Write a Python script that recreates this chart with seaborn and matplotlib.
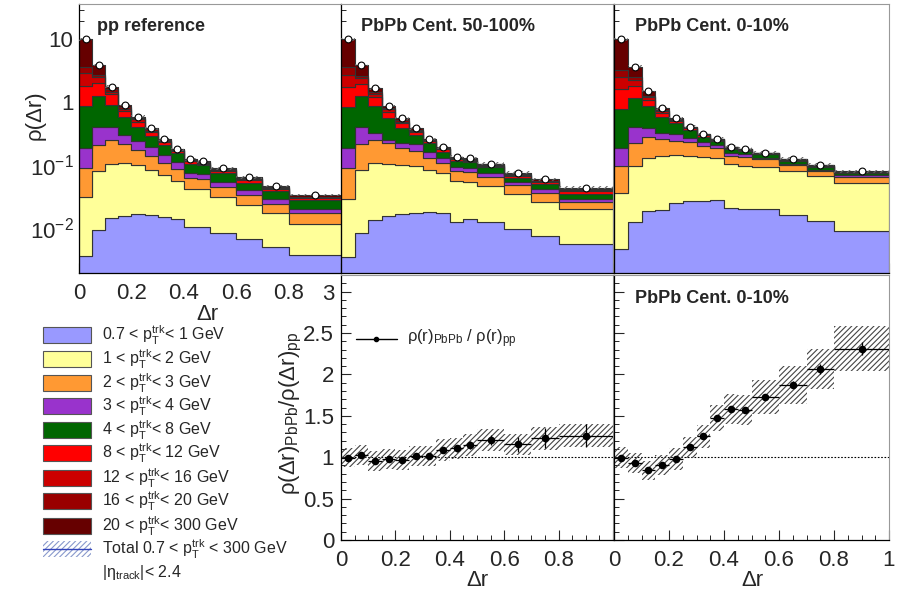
import numpy as np
import pandas as pd
import matplotlib
matplotlib.use("Agg")
import matplotlib.pyplot as plt
import seaborn as sns
from matplotlib.patches import Rectangle
from matplotlib.ticker import FixedLocator, FixedFormatter, LogLocator, MultipleLocator, NullFormatter

# ---------------- data ----------------
bin_edges = [0, 0.05, 0.1, 0.15, 0.2, 0.25, 0.3, 0.35, 0.4, 0.45, 0.5, 0.6, 0.7, 0.8, 1.0]

layer_labels = ["0.7 < p$_\\mathrm{T}^\\mathrm{trk}$< 1 GeV",
                "1 < p$_\\mathrm{T}^\\mathrm{trk}$< 2 GeV",
                "2 < p$_\\mathrm{T}^\\mathrm{trk}$< 3 GeV",
                "3 < p$_\\mathrm{T}^\\mathrm{trk}$< 4 GeV",
                "4 < p$_\\mathrm{T}^\\mathrm{trk}$< 8 GeV",
                "8 < p$_\\mathrm{T}^\\mathrm{trk}$< 12 GeV",
                "12 < p$_\\mathrm{T}^\\mathrm{trk}$< 16 GeV",
                "16 < p$_\\mathrm{T}^\\mathrm{trk}$< 20 GeV",
                "20 < p$_\\mathrm{T}^\\mathrm{trk}$< 300 GeV"]
layer_colors = ["#9999FF", "#FFFF99", "#FF9933", "#9933CC", "#006600",
                "#FF0000", "#CC0000", "#990000", "#660000"]

# cumulative (stacked) tops of each pT layer, pp reference
pp_c1 = [.0036, .0093, .0142, .0155, .0166, .0160, .0147, .0137, .0105, .0105, .0084, .0066, .0050, .0037]
pp_c2 = [.031, .0815, .106, .109, .100, .0834, .0695, .0565, .0411, .0411, .0314, .0231, .0171, .0115]
pp_c3 = [.091, .209, .251, .217, .174, .139, .109, .0855, .0615, .0600, .0453, .0330, .0240, .0171]
pp_c4 = [.189, .399, .399, .305, .242, .197, .145, .112, .0757, .0721, .0544, .0401, .0288, .0200]
pp_c5 = [.875, 1.28, .908, .577, .409, .291, .209, .154, .104, .099, .0738, .0525, .0392, .0278]
pp_c6 = [1.82, 2.00, 1.34, .728, .492, .337, .233, .168, .115, .106, .0805, .0578, .0416, .0295]
pp_c7 = [2.89, 2.50, 1.48, .783, .536, .353, .242, .172, .117, .109, .0834, .0600, .0431, .0306]
pp_c8 = [3.69, 2.72, 1.61, .832, .556, .371, .248, .176, .120, .112, .0855, .0615, .0442, .0314]
pp_c9 = [10.1, 3.93, 1.78, .908, .591, .385, .257, .178, .123, .115, .0887, .0638, .0465, .0334]

# PbPb 50-100%
per_c1 = [.0034, .0082, .0134, .0156, .0166, .0175, .0179, .0171, .0126, .0140, .0126, .0098, .0075, .0055]
per_c2 = [.0288, .0834, .109, .106, .100, .0967, .0834, .0738, .0558, .0532, .0471, .0342, .0255, .0198]
per_c3 = [.091, .217, .251, .222, .185, .170, .131, .109, .0815, .0786, .0654, .0482, .0364, .0255]
per_c4 = [.185, .399, .321, .251, .222, .214, .164, .131, .0944, .091, .0738, .0532, .0421, .0288]
per_c5 = [.852, 1.28, .875, .556, .385, .302, .228, .164, .116, .111, .0921, .0631, .0500, .0351]
per_c6 = [1.78, 1.93, 1.23, .709, .463, .341, .239, .178, .1236, .117, .098, .0679, .0538, .0387]
per_c7 = [2.72, 2.41, 1.34, .773, .492, .353, .245, .183, .127, .1205, .100, .0695, .0551, .0401]
per_c8 = [3.69, 2.62, 1.44, .821, .523, .366, .251, .187, .130, .1236, .1028, .0713, .0565, .0411]
per_c9 = [10.1, 3.93, 1.67, .875, .556, .385, .257, .192, .136, .130, .106, .0757, .0593, .0437]

# PbPb 0-10%
cen_c1 = [.0047, .0126, .0188, .0193, .0246, .0268, .0271, .0278, .0205, .0198, .0200, .0160, .0129, .0089]
cen_c2 = [.0364, .098, .131, .139, .145, .141, .133, .128, .104, .098, .0921, .0805, .0679, .0525]
cen_c3 = [.0967, .228, .284, .257, .245, .236, .201, .185, .141, .136, .1236, .100, .0805, .0654]
cen_c4 = [.185, .409, .385, .328, .309, .273, .236, .209, .158, .150, .131, .106, .0846, .0704]
cen_c5 = [.775, 1.185, .875, .591, .463, .362, .284, .245, .183, .170, .148, .117, .0944, .0738]
cen_c6 = [1.61, 1.82, 1.088, .668, .504, .385, .302, .254, .190, .176, .152, .1205, .0967, .0757]
cen_c7 = [2.50, 2.26, 1.20, .718, .523, .394, .305, .257, .192, .178, .154, .122, .098, .0767]
cen_c8 = [3.27, 2.56, 1.26, .754, .536, .399, .309, .260, .194, .180, .156, .1236, .099, .0776]
cen_c9 = [10.1, 3.69, 1.51, .801, .556, .409, .313, .264, .197, .183, .158, .127, .102, .0796]

# ratios PbPb / pp
ratio_per = [0.996, 1.025, 0.955, 0.975, 0.963, 1.012, 1.012, 1.086, 1.107, 1.148, 1.21, 1.156, 1.23, 1.259]
ratio_per_stat = [0.02, 0.02, 0.02, 0.02, 0.02, 0.02, 0.02, 0.03, 0.04, 0.05, 0.06, 0.09, 0.12, 0.14]
ratio_per_sys = [0.12, 0.12, 0.12, 0.12, 0.12, 0.12, 0.12, 0.13, 0.13, 0.13, 0.13, 0.13, 0.14, 0.14]
ratio_cen = [0.996, 0.930, 0.840, 0.901, 0.975, 1.119, 1.251, 1.473, 1.580, 1.572, 1.728, 1.877, 2.062, 2.309]
ratio_cen_stat = [0.02, 0.02, 0.02, 0.02, 0.02, 0.02, 0.02, 0.03, 0.03, 0.03, 0.03, 0.04, 0.06, 0.08]
ratio_cen_sys = [0.13, 0.12, 0.12, 0.12, 0.13, 0.13, 0.14, 0.16, 0.18, 0.18, 0.21, 0.23, 0.24, 0.27]

panel_titles = ["pp reference", "PbPb Cent. 50-100%", "PbPb Cent. 0-10%"]

# ---------------- style ----------------
sns.set_theme(style="ticks")
plt.rcParams["font.family"] = ["Liberation Sans", "DejaVu Sans"]
plt.rcParams["mathtext.fontset"] = "custom"
plt.rcParams["mathtext.rm"] = "Liberation Sans"
plt.rcParams["mathtext.it"] = "Liberation Sans:italic"
plt.rcParams["mathtext.bf"] = "Liberation Sans:bold"
plt.rcParams["hatch.linewidth"] = 0.8

W, H = 898, 590
fig = plt.figure(figsize=(W / 100, H / 100), dpi=100)


def add_ax(x0, y0, x1, y1):
    return fig.add_axes([x0 / W, 1 - y1 / H, (x1 - x0) / W, (y1 - y0) / H])


edges = np.array(bin_edges)
centers = 0.5 * (edges[1:] + edges[:-1])
widths = np.diff(edges)
palette = dict(zip(layer_labels, layer_colors))

cum_sets = [
    [pp_c1, pp_c2, pp_c3, pp_c4, pp_c5, pp_c6, pp_c7, pp_c8, pp_c9],
    [per_c1, per_c2, per_c3, per_c4, per_c5, per_c6, per_c7, per_c8, per_c9],
    [cen_c1, cen_c2, cen_c3, cen_c4, cen_c5, cen_c6, cen_c7, cen_c8, cen_c9],
]

top_boxes = [(79, 4, 341, 273), (341, 4, 613, 273), (614, 4, 889, 273)]
bot_boxes = [(341, 275, 613, 540), (614, 275, 889, 540)]

TICK = 16


def style_spines(ax):
    for s in ["left", "bottom"]:
        ax.spines[s].set_color("black")
        ax.spines[s].set_linewidth(0.9)
    for s in ["top", "right"]:
        ax.spines[s].set_color("#999999")
        ax.spines[s].set_linewidth(0.8)


for i, (box, cums) in enumerate(zip(top_boxes, cum_sets)):
    ax = add_ax(*box)
    cum = np.array(cums)
    contrib = np.diff(np.vstack([np.zeros(len(centers)), cum]), axis=0)
    rows = []
    for li, lab in enumerate(layer_labels):
        for c, w in zip(centers, contrib[li]):
            rows.append({"x": c, "w": w, "layer": lab})
    df = pd.DataFrame(rows)
    sns.histplot(data=df, x="x", weights="w", hue="layer",
                 hue_order=layer_labels[::-1], palette=palette,
                 bins=bin_edges, multiple="stack", element="step",
                 alpha=1, linewidth=0.8, edgecolor="#333333",
                 legend=False, ax=ax)
    total = cum[-1]
    ax.bar(centers, total * 0.10, bottom=total * 0.95, width=widths,
           fill=False, hatch="/////", edgecolor="#666666", linewidth=0, zorder=4)
    sns.scatterplot(x=centers, y=total, ax=ax, color="white", edgecolor="black",
                    s=24, linewidth=0.8, zorder=6)
    ax.set_yscale("log")
    ax.set_xlim(0, 1)
    ax.set_ylim(0.00192, 36.7)
    ax.set_xlabel("")
    ax.set_ylabel("")
    ax.yaxis.set_major_locator(FixedLocator([1e-2, 1e-1, 1, 10]))
    ax.yaxis.set_minor_locator(LogLocator(base=10, subs=np.arange(2, 10)))
    ax.yaxis.set_minor_formatter(NullFormatter())
    ax.xaxis.set_major_locator(FixedLocator([0, 0.2, 0.4, 0.6, 0.8, 1.0]))
    ax.xaxis.set_minor_locator(MultipleLocator(0.05))
    if i == 0:
        ax.yaxis.set_major_formatter(FixedFormatter(["$10^{-2}$", "$10^{-1}$", "1", "10"]))
        ax.xaxis.set_major_formatter(FixedFormatter(["0", "0.2", "0.4", "0.6", "0.8", ""]))
    else:
        ax.tick_params(labelleft=False, labelbottom=False)
    ax.tick_params(which="both", direction="in", top=False, right=False, labelsize=TICK)
    ax.tick_params(which="major", length=7, width=0.8)
    ax.tick_params(which="minor", length=3.5, width=0.7)
    ax.tick_params(axis="x", pad=7.5)
    ax.tick_params(axis="y", pad=4)
    style_spines(ax)
    ax.text(0.07 if i == 0 else 0.075, 0.915, panel_titles[i], transform=ax.transAxes,
            fontsize=13, fontweight="bold", ha="left", va="center")

ratio_sets = [(ratio_per, ratio_per_stat, ratio_per_sys), (ratio_cen, ratio_cen_stat, ratio_cen_sys)]
for j, (box, (rv, rs, rsys)) in enumerate(zip(bot_boxes, ratio_sets)):
    ax = add_ax(*box)
    rv = np.array(rv); rs = np.array(rs); rsys = np.array(rsys)
    ax.bar(centers, 2 * rsys, bottom=rv - rsys, width=widths, fill=False,
           hatch="//////", edgecolor="#444444", linewidth=0, zorder=2)
    ax.axhline(1, color="black", lw=0.8, ls=(0, (1.5, 1.5)), zorder=1)
    ax.errorbar(centers, rv, xerr=widths / 2, yerr=rs, fmt="none", ecolor="black",
                elinewidth=0.9, capsize=0, zorder=3)
    sns.scatterplot(x=centers, y=rv, ax=ax, color="black", edgecolor="black",
                    s=30, linewidth=0, zorder=4)
    ax.set_xlim(0, 1)
    ax.set_ylim(0, 3.2)
    ax.set_xlabel("")
    ax.set_ylabel("")
    ax.yaxis.set_major_locator(FixedLocator([0, 0.5, 1, 1.5, 2, 2.5, 3]))
    ax.yaxis.set_minor_locator(FixedLocator(np.round(np.arange(0, 3.2, 0.1), 2)))
    ax.xaxis.set_major_locator(FixedLocator([0, 0.2, 0.4, 0.6, 0.8, 1.0]))
    ax.xaxis.set_minor_locator(MultipleLocator(0.05))
    if j == 0:
        ax.yaxis.set_major_formatter(FixedFormatter(["0", "0.5", "1", "1.5", "2", "2.5", "3"]))
        ax.xaxis.set_major_formatter(FixedFormatter(["0", "0.2", "0.4", "0.6", "0.8", ""]))
    else:
        ax.tick_params(labelleft=False)
        ax.xaxis.set_major_formatter(FixedFormatter(["0", "0.2", "0.4", "0.6", "0.8", "1"]))
        ax.text(0.075, 0.91, "PbPb Cent. 0-10%", transform=ax.transAxes,
                fontsize=13, fontweight="bold", ha="left", va="center")
    ax.tick_params(which="both", direction="in", top=False, right=False, labelsize=TICK)
    ax.tick_params(which="major", length=7, width=0.8)
    ax.tick_params(which="minor", length=3.5, width=0.7)
    ax.tick_params(axis="x", pad=7.5)
    ax.tick_params(axis="y", pad=5)
    style_spines(ax)

# ---------------- overlay (labels & legends) ----------------
ov = fig.add_axes([0, 0, 1, 1], zorder=10)
ov.set_xlim(0, W)
ov.set_ylim(H, 0)
ov.axis("off")

ov.text(207, 314, "Δr", fontsize=16, ha="center", va="center")
ov.text(477, 580, "Δr", fontsize=16, ha="center", va="center")
ov.text(752, 580, "Δr", fontsize=16, ha="center", va="center")
ov.text(35, 115, "ρ(Δr)", fontsize=16, rotation=90, ha="center", va="center")
ov.text(291, 413, "ρ(Δr)$_\\mathrm{PbPb}$/ρ(Δr)$_\\mathrm{pp}$", fontsize=16,
        rotation=90, ha="center", va="center")

row_y = [335, 359, 383, 406, 430, 453, 478, 501, 526]
for yc, lab, col in zip(row_y, layer_labels, layer_colors):
    ov.add_patch(Rectangle((43, yc - 8), 48, 16, facecolor=col, edgecolor="#555555", lw=0.8))
    ov.text(102, yc, lab, fontsize=11.5, ha="left", va="center")
ov.add_patch(Rectangle((43, 541), 48, 16, facecolor="white", edgecolor="#8899cc",
                       hatch="//////", lw=0))
ov.plot([43, 91], [549, 549], color="#3344bb", lw=1)
ov.text(102, 549, "Total 0.7 < p$_\\mathrm{T}^\\mathrm{trk}$ < 300 GeV", fontsize=11.5,
        ha="left", va="center")
ov.text(102, 573, "|η$_\\mathrm{track}$|< 2.4", fontsize=11.5, ha="left", va="center")

ov.plot([356, 397], [339, 339], color="black", lw=1)
ov.plot([376], [339], marker="o", ms=3, color="black")
ov.text(407, 339, "ρ(r)$_\\mathrm{PbPb}$ / ρ(r)$_\\mathrm{pp}$", fontsize=12,
        ha="left", va="center")

fig.savefig("out.png", dpi=100)
